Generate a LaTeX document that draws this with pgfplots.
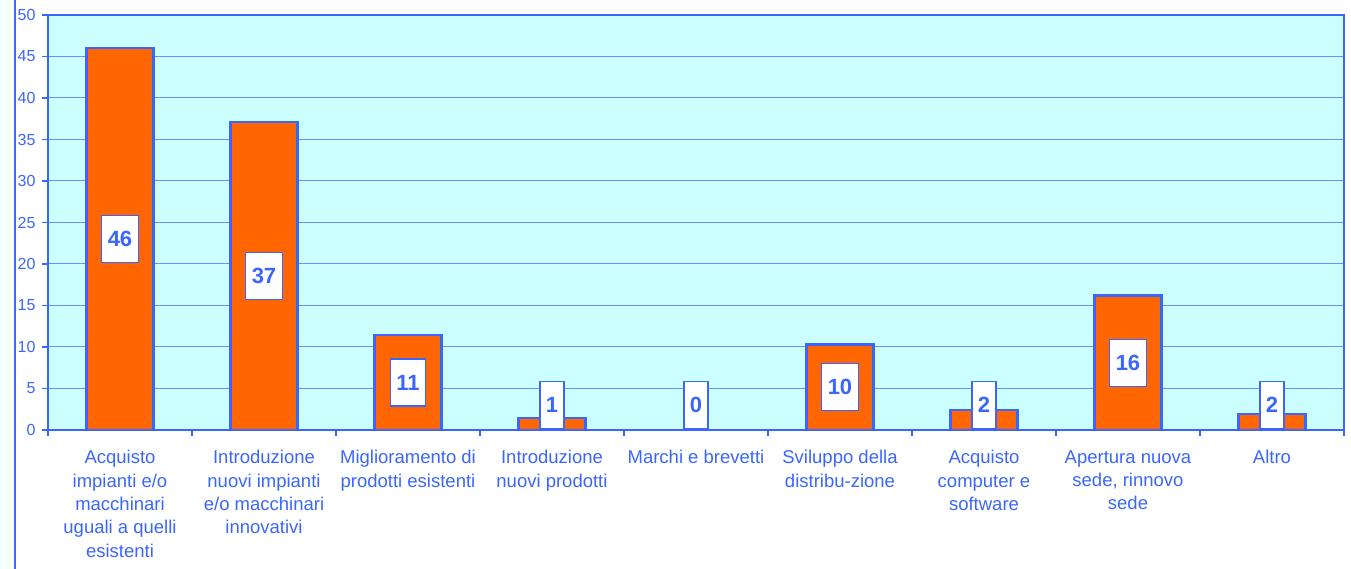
\documentclass[border=0pt]{standalone}
\usepackage{pgfplots}
\pgfplotsset{compat=1.18}
\usepackage{pgfplotstable}
\usepackage{fontspec}
\setmainfont{Liberation Sans}
\definecolor{bgc}{HTML}{CCFFFF}
\definecolor{barc}{HTML}{FF6600}
\definecolor{bl}{HTML}{3A66FF}
\definecolor{gridc}{HTML}{6A8FFF}
\definecolor{pale}{HTML}{F4FFFF}

\pgfplotstableread{
x y
0 46
1 37.1
2 11.4
3 1.4
4 0
5 10.3
6 2.4
7 16.2
8 1.9
}\bars
\pgfplotstableread{
x y lab
0 23 46
1 18.55 37
2 5.7 11
3 3.0 1
4 3.0 0
5 5.15 10
6 3.0 2
7 8.1 16
8 3.0 2
}\labs

\begin{document}
\begin{tikzpicture}
\useasboundingbox (-48pt,-139pt) rectangle (1303pt,430pt);
\fill[pale] (-48pt,-139pt) rectangle (-33pt,430pt);
\draw[bl, line width=2.2pt] (-33pt,-139pt) -- (-33pt,430pt);
\begin{axis}[
  scale only axis, width=1296pt, height=415pt,
  at={(0,0)}, anchor=south west,
  xmin=-0.5, xmax=8.5, ymin=0, ymax=50,
  axis background/.style={fill=bgc},
  axis line style={bl, line width=2.2pt},
  ytick={0,5,...,50},
  ymajorgrids, grid style={gridc, line width=1pt},
  xtick={-0.5,0.5,...,8.5}, xticklabels={},
  extra x ticks={0,1,...,8},
  extra x tick labels={
    {Acquisto\\impianti e/o\\macchinari\\uguali a quelli\\esistenti},
    {Introduzione\\nuovi impianti\\e/o macchinari\\innovativi},
    {Miglioramento di\\prodotti esistenti},
    {Introduzione\\nuovi prodotti},
    {Marchi e brevetti},
    {Sviluppo della\\distribu-zione},
    {Acquisto\\computer e\\software},
    {Apertura nuova\\sede, rinnovo\\sede},
    {Altro}},
  extra x tick style={major tick length=0pt, grid=none},
  tick align=outside, xtick pos=bottom, ytick pos=left,
  tick style={bl, line width=1.2pt},
  major tick length=6pt,
  yticklabel style={font=\fontsize{16}{16}\selectfont, text=bl, xshift=-3pt},
  /pgf/number format/assume math mode=true,
  xticklabel style={font=\fontsize{18.5}{23.3}\selectfont, text=bl, align=center, anchor=north, yshift=-17pt},
]
\addplot[ybar, bar width=67pt, bar shift=0pt, fill=barc, draw=bl, line width=2.2pt] table[x=x,y=y]{\bars};
\addplot[only marks, mark=none, nodes near coords, point meta=explicit symbolic,
  nodes near coords style={anchor=center, fill=white, draw=bl, line width=1.4pt,
    text=bl, font=\fontsize{22}{22}\selectfont\bfseries,
    minimum height=47pt, inner xsep=6pt}] table[x=x,y=y,meta=lab]{\labs};
\end{axis}
\end{tikzpicture}
\end{document}
